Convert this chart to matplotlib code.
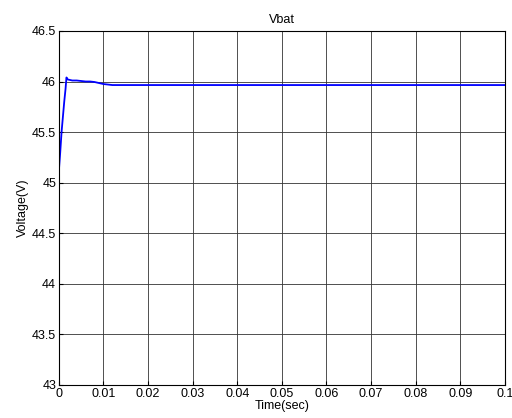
import matplotlib
matplotlib.use("Agg")
import matplotlib.pyplot as plt

# Battery voltage trace
time_s = [0.0, 0.0003, 0.0006, 0.0009, 0.0012, 0.0015, 0.0017, 0.002, 0.003,
          0.004, 0.005, 0.006, 0.007, 0.008, 0.009, 0.010, 0.011, 0.012, 0.05, 0.1]
vbat = [45.12, 45.3, 45.5, 45.65, 45.8, 45.93, 46.04, 46.02, 46.01,
        46.01, 46.005, 46.0, 46.0, 45.995, 45.985, 45.975, 45.97, 45.965, 45.965, 45.965]

xticks = [0, 0.01, 0.02, 0.03, 0.04, 0.05, 0.06, 0.07, 0.08, 0.09, 0.1]
xticklabels = ["0", "0.01", "0.02", "0.03", "0.04", "0.05", "0.06", "0.07", "0.08", "0.09", "0.1"]
yticks = [43, 43.5, 44, 44.5, 45, 45.5, 46, 46.5]
yticklabels = ["43", "43.5", "44", "44.5", "45", "45.5", "46", "46.5"]

plt.rcParams["font.family"] = ["Liberation Sans", "DejaVu Sans"]
plt.rcParams["font.size"] = 9

fig = plt.figure(figsize=(5.12, 4.18), dpi=100)
ax = fig.add_axes([0.115, 0.079, 0.871, 0.847])
ax.plot(time_s, vbat, color="#0000ff", linewidth=1.3)
ax.set_xlim(0, 0.1)
ax.set_ylim(43, 46.5)
ax.set_xticks(xticks)
ax.set_xticklabels(xticklabels)
ax.set_yticks(yticks)
ax.set_yticklabels(yticklabels)
ax.grid(True, color="#333333", linewidth=0.6, linestyle="-")
ax.tick_params(direction="in", length=3, pad=2, colors="black")
for s in ax.spines.values():
    s.set_linewidth(0.8)
ax.set_xlabel("Time(sec)", labelpad=0)
ax.set_ylabel("Voltage(V)", labelpad=2)
ax.set_title("Vbat", fontsize=9, pad=6)
fig.savefig("out.png", dpi=100)
